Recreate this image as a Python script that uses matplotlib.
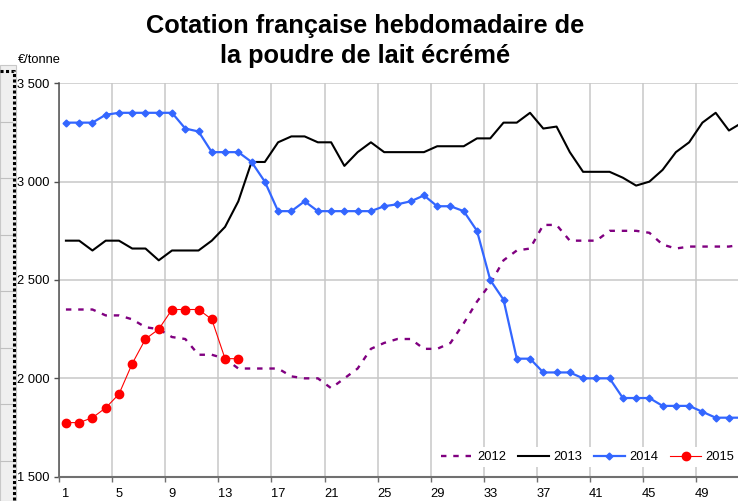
import matplotlib
matplotlib.use("Agg")
import matplotlib.pyplot as plt
from matplotlib.lines import Line2D
from matplotlib.patches import Rectangle
from matplotlib.ticker import FuncFormatter
import numpy as np

plt.rcParams['font.family'] = ['Liberation Sans', 'DejaVu Sans']

# weekly quotation, EUR/tonne
weeks = np.arange(1, 53)
p2012 = [2350, 2350, 2350, 2320, 2320, 2300, 2260, 2250, 2210, 2200,
         2120, 2120, 2100, 2050, 2050, 2050, 2050, 2010, 2000, 2000,
         1950, 2000, 2050, 2150, 2180, 2200, 2200, 2150, 2150, 2180,
         2280, 2390, 2480, 2600, 2650, 2660, 2780, 2780, 2700, 2700,
         2700, 2750, 2750, 2750, 2740, 2680, 2660, 2670, 2670, 2670,
         2670, 2680]
p2013 = [2700, 2700, 2650, 2700, 2700, 2660, 2660, 2600, 2650, 2650,
         2650, 2700, 2770, 2900, 3100, 3100, 3200, 3230, 3230, 3200,
         3200, 3080, 3150, 3200, 3150, 3150, 3150, 3150, 3180, 3180,
         3180, 3220, 3220, 3300, 3300, 3350, 3270, 3280, 3150, 3050,
         3050, 3050, 3020, 2980, 3000, 3060, 3150, 3200, 3300, 3350,
         3260, 3300]
p2014 = [3300, 3300, 3300, 3340, 3350, 3350, 3350, 3350, 3350, 3270,
         3255, 3150, 3150, 3150, 3100, 3000, 2850, 2850, 2900, 2850,
         2850, 2850, 2850, 2850, 2875, 2885, 2900, 2930, 2875, 2875,
         2850, 2750, 2500, 2400, 2100, 2100, 2030, 2030, 2030, 2000,
         2000, 2000, 1900, 1900, 1900, 1860, 1860, 1860, 1830, 1800,
         1800, 1800]
weeks2015 = np.arange(1, 15)
p2015 = [1775, 1775, 1800, 1850, 1920, 2075, 2200, 2250, 2350, 2350,
         2350, 2300, 2100, 2100]

W, H = 738, 501
fig = plt.figure(figsize=(W / 100, H / 100), dpi=100)

# plot area in pixels
left, top, bottom = 59.3, 83.3, 476.7
ax = fig.add_axes([left / W, 1 - bottom / H, (W - left) / W, (bottom - top) / H])

px_week = 13.26
ax.set_xlim(0.5, 0.5 + (W - left) / px_week)
ax.set_ylim(1500, 3500)

ax.plot(weeks, p2012, color='#800080', lw=1.7, linestyle=(0, (2.3, 2.9)),
        dash_capstyle='butt', label='2012')
ax.plot(weeks, p2013, color='black', lw=1.5, label='2013')
ax.plot(weeks, p2014, color='#3366FF', lw=1.6, marker='D', ms=3.5, label='2014')
ax.plot(weeks2015, p2015, color='#FF0000', lw=0.8, marker='o', ms=6, label='2015')

# grid / ticks
ax.set_yticks(np.arange(1500, 3501, 500))
ax.yaxis.set_major_formatter(FuncFormatter(lambda v, p: f"{int(v):,}".replace(",", " ")))
ax.set_xticks(np.arange(1, 53, 4))
ax.set_xticks(np.arange(0.5, 52, 4), minor=True)
ax.grid(axis='y', which='major', color='#C8C8C8', lw=1.1)
ax.grid(axis='x', which='minor', color='#C8C8C8', lw=1.1)
ax.set_axisbelow(True)
ax.tick_params(axis='x', which='major', length=0, pad=8, labelsize=9.3)
ax.tick_params(axis='x', which='minor', length=3.6, width=1, color='#707070')
ax.tick_params(axis='y', which='major', length=3.6, width=1, color='#505050',
               pad=3.5, labelsize=9.3)
for s in ('top', 'right'):
    ax.spines[s].set_visible(False)
ax.spines['left'].set_color('#505050')
ax.spines['left'].set_linewidth(1.1)
ax.spines['bottom'].set_color('#707070')
ax.spines['bottom'].set_linewidth(1.5)

leg = ax.legend(loc='center right', bbox_to_anchor=(1.0, 0.05), ncol=4,
                frameon=True, facecolor='white', edgecolor='none', framealpha=1,
                fancybox=False, fontsize=9.3, handlelength=2.45, handletextpad=0.3,
                columnspacing=0.9, borderpad=0.3, borderaxespad=0)

# titles
fig.text(365 / W, 1 - 33.3 / H, "Cotation française hebdomadaire de",
         ha='center', va='baseline', fontsize=18.3, fontweight='bold')
fig.text(365 / W, 1 - 63.5 / H, "la poudre de lait écrémé",
         ha='center', va='baseline', fontsize=18.3, fontweight='bold')
fig.text(18 / W, 1 - 63 / H, "€/tonne", ha='left', va='baseline', fontsize=9.3)

# cropped frame of the neighbouring chart at the left edge
fig.patches.append(Rectangle((0, 0), 15.7 / W, 1 - 65 / H, transform=fig.transFigure,
                             facecolor='#EFEFEF', edgecolor='#C8C8C8', lw=0.8))
for k in range(7):
    y = 1 - (121.7 + 56.5 * k) / H
    fig.add_artist(Line2D([0, 12 / W], [y, y], transform=fig.transFigure,
                          color='#C0C0C0', lw=0.8))
fig.add_artist(Line2D([0, 13.8 / W, 13.8 / W], [1 - 71.3 / H, 1 - 71.3 / H, 0],
                      transform=fig.transFigure, color='black', lw=2.2,
                      linestyle=(0, (1, 0.8)), dash_capstyle='butt'))

fig.savefig("out.png", dpi=100)
